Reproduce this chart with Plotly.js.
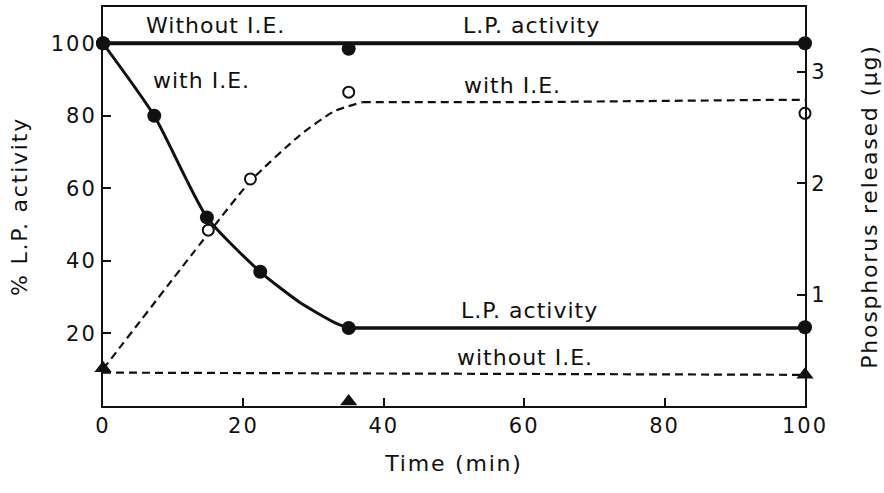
<!DOCTYPE html>
<html>
<head>
<meta charset="utf-8">
<script src="https://cdn.plot.ly/plotly-3.0.1.min.js"></script>
<style>
html,body{margin:0;padding:0;background:#fff;}
#chart{width:884px;height:493px;}
svg text{letter-spacing:1px;}
svg .xtick text, svg .ytick text, svg .y2tick text{letter-spacing:2px;}
svg .xtitle, svg .ytitle, svg .y2title{letter-spacing:1.8px;}
</style>
</head>
<body>
<div id="chart"></div>
<script>
// Measured points: % L.P. activity (left axis)
const timeLpWith = [0, 7.3, 14.8, 22.4, 35, 100];
const lpWith = [100, 80, 52, 37, 21.5, 21.7];
const timeLpWithout = [0, 35, 100];
const lpWithout = [100, 98.5, 100];
// Measured points: phosphorus released, µg (right axis)
const timePWith = [15, 21, 35, 100];
const pWith = [1.58, 2.04, 2.82, 2.63];
const timePWithout = [0, 35, 100];
const pWithout = [0.34, 0.04, 0.28];
// Hand-drawn curves
const curveLpDropT = [0, 7.3, 14.8, 22.4, 28, 33, 35];
const curveLpDrop = [100, 80, 52, 37, 28.6, 23, 21.5];
const curveLpPlateauT = [35, 100];
const curveLpPlateau = [21.5, 21.5];
const curveLpWithoutT = [0, 100];
const curveLpWithout = [100, 100];
const curvePRiseT = [0, 15, 21, 28, 33, 37];
const curvePRise = [0.33, 1.55, 2.02, 2.43, 2.65, 2.73];
const curvePPlateauT = [37, 60, 95, 100];
const curvePPlateau = [2.73, 2.73, 2.75, 2.75];
const curvePWithoutT = [0, 100];
const curvePWithout = [0.30, 0.28];
// Tick labels
const xTicks = [0, 20, 40, 60, 80, 100];
const yLeftTicks = [20, 40, 60, 80, 100];
const yRightTicks = [1, 2, 3];

const FONT = 'DejaVu Sans, sans-serif';
const K = '#111';
const DASH = '8px,5px';

const traces = [
  {x: curveLpWithoutT, y: curveLpWithout, mode: 'lines', line: {color: K, width: 4}, yaxis: 'y', cliponaxis: false},
  {x: curveLpDropT, y: curveLpDrop, mode: 'lines', line: {color: K, width: 3, shape: 'spline', smoothing: 0.6}, yaxis: 'y', cliponaxis: false},
  {x: curveLpPlateauT, y: curveLpPlateau, mode: 'lines', line: {color: K, width: 3.5}, yaxis: 'y', cliponaxis: false},
  {x: curvePRiseT, y: curvePRise, mode: 'lines', line: {color: K, width: 2.2, dash: DASH, shape: 'spline', smoothing: 0.6}, yaxis: 'y2', cliponaxis: false},
  {x: curvePPlateauT, y: curvePPlateau, mode: 'lines', line: {color: K, width: 2.2, dash: DASH}, yaxis: 'y2', cliponaxis: false},
  {x: curvePWithoutT, y: curvePWithout, mode: 'lines', line: {color: K, width: 2.2, dash: DASH}, yaxis: 'y2', cliponaxis: false},
  {x: timeLpWithout, y: lpWithout, mode: 'markers', marker: {symbol: 'circle', size: 14, color: K}, yaxis: 'y', cliponaxis: false},
  {x: timeLpWith, y: lpWith, mode: 'markers', marker: {symbol: 'circle', size: 14, color: K}, yaxis: 'y', cliponaxis: false},
  {x: timePWith, y: pWith, mode: 'markers', marker: {symbol: 'circle', size: 11, color: '#fff', line: {color: K, width: 2}}, yaxis: 'y2', cliponaxis: false},
  {x: timePWithout, y: pWithout, mode: 'markers', marker: {symbol: 'triangle-up', size: 15, color: K}, yaxis: 'y2', cliponaxis: false}
];

function ann(text, x, y) {
  return {text: text, x: x, y: y, xref: 'x', yref: 'y', showarrow: false,
          font: {family: FONT, size: 22, color: K}, xanchor: 'center', yanchor: 'middle'};
}

const TICKFONT = {family: FONT, size: 21, color: K};
const TITLEFONT = {family: FONT, size: 22, color: K};

const layout = {
  width: 884, height: 493,
  margin: {l: 103, r: 79, t: 7, b: 87},
  paper_bgcolor: '#fff', plot_bgcolor: '#fff',
  showlegend: false,
  font: {family: FONT, size: 22, color: K},
  xaxis: {
    range: [0, 100], tickvals: xTicks, ticktext: xTicks.map(String),
    showline: true, linecolor: K, linewidth: 2, mirror: true,
    ticks: 'inside', ticklen: 8, tickwidth: 2, tickcolor: K,
    showgrid: false, zeroline: false,
    tickfont: TICKFONT,
    title: {text: 'Time (min)', font: TITLEFONT, standoff: 18}
  },
  yaxis: {
    range: [0, 110], tickvals: yLeftTicks, ticktext: yLeftTicks.map(String),
    showline: true, linecolor: K, linewidth: 2,
    ticks: 'inside', ticklen: 8, tickwidth: 2, tickcolor: K,
    showgrid: false, zeroline: false,
    tickfont: TICKFONT,
    title: {text: '% L.P. activity', font: TITLEFONT, standoff: 17}
  },
  yaxis2: {
    overlaying: 'y', side: 'right',
    range: [0, 3.585], tickvals: yRightTicks, ticktext: yRightTicks.map(String),
    showline: true, linecolor: K, linewidth: 2,
    ticks: 'inside', ticklen: 8, tickwidth: 2, tickcolor: K,
    showgrid: false, zeroline: false,
    tickfont: TICKFONT,
    title: {text: 'Phosphorus released (\u03BCg)', font: TITLEFONT, standoff: 36}
  },
  annotations: [
    ann('Without I.E.', 16, 104.8),
    ann('L.P. activity', 61, 104.8),
    ann('with I.E.', 14, 89.7),
    ann('with I.E.', 58.3, 88.3),
    ann('L.P. activity', 60.8, 26.4),
    ann('without I.E.', 60.1, 13.5)
  ]
};

Plotly.newPlot('chart', traces, layout, {displayModeBar: false, staticPlot: true});
</script>
</body>
</html>
